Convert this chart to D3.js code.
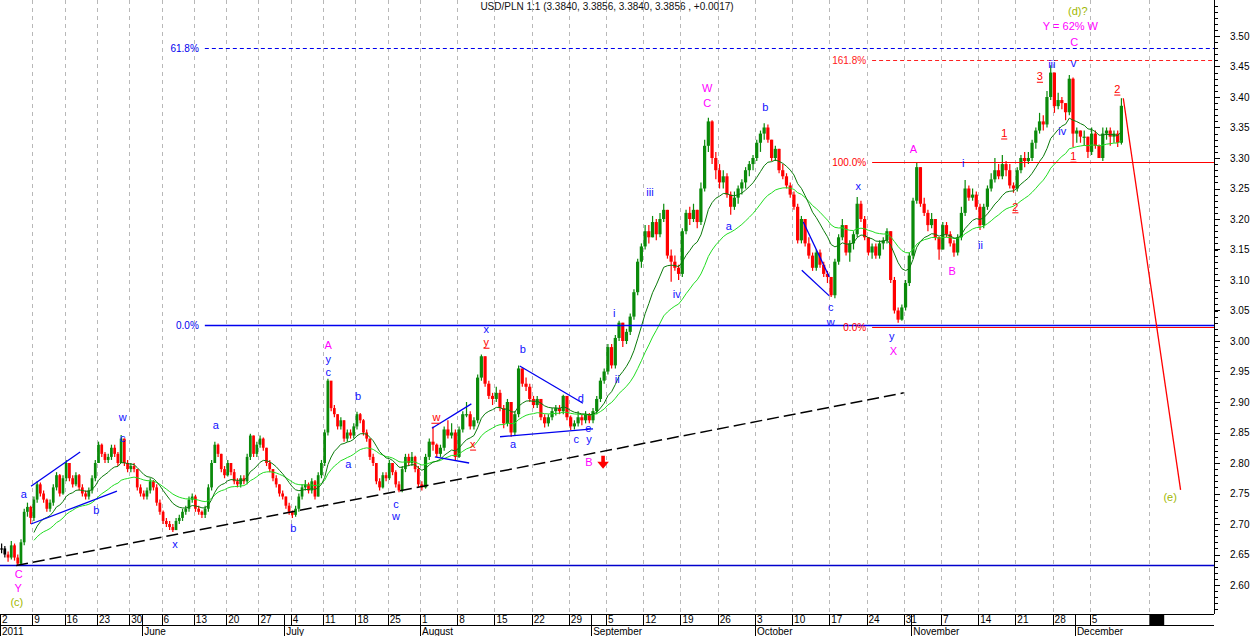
<!DOCTYPE html>
<html><head><meta charset="utf-8">
<script src="https://cdn.jsdelivr.net/npm/d3@7"></script>
<style>
body{margin:0;background:#fff}
svg{display:block}
text{font-family:"Liberation Sans",Arial,sans-serif}
</style>
</head><body>
<svg id="c" width="1250" height="636"></svg>
<script>
// ---------------- DATA ----------------
const title = "USD/PLN 1:1 (3.3840, 3.3856, 3.3840, 3.3856 , +0.0017)";
const firstDay = "2011-05-02";
const lastDay = "2011-12-30";
const scaleBreak = ["2011-08-01", "2011-12-12"];
// half-day bars (two per trading day): closes, highs, lows; open = previous close
const closes = [
2.66,2.65, 2.645,2.665, 2.645,2.635, 2.67,2.72, 2.728,2.71,
2.74,2.765, 2.75,2.74, 2.725,2.735, 2.76,2.78, 2.75,2.775,
2.80,2.775, 2.765,2.78, 2.76,2.75, 2.745,2.755, 2.775,2.80,
2.83,2.815, 2.805,2.81, 2.825,2.815, 2.80,2.84, 2.80,2.79,
2.795,2.79, 2.76,2.75, 2.745,2.755, 2.77,2.76, 2.735,2.72,
2.705,2.70, 2.695,2.69, 2.705,2.71, 2.72,2.725, 2.74,2.745,
2.725,2.72, 2.715,2.725, 2.76,2.80, 2.83,2.815, 2.79,2.78,
2.80,2.785, 2.77,2.765, 2.775,2.77, 2.81,2.845, 2.815,2.83,
2.84,2.825, 2.80,2.79, 2.775,2.765, 2.75,2.745, 2.73,2.72,
2.715,2.725, 2.745,2.76, 2.765,2.755, 2.77,2.745, 2.78,2.80,
2.85,2.935, 2.89,2.88, 2.86,2.87, 2.84,2.85, 2.845,2.86,
2.88,2.87, 2.85,2.84, 2.81,2.80, 2.77,2.76, 2.78,2.775,
2.80,2.785, 2.765,2.755, 2.79,2.81, 2.80,2.81, 2.79,2.765,
2.76,2.81, 2.835,2.83, 2.815,2.825, 2.855,2.845, 2.85,2.81,
2.855,2.88, 2.88,2.86, 2.87,2.94, 2.975,2.93, 2.91,2.905,
2.915,2.89, 2.865,2.90, 2.85,2.88, 2.955,2.93, 2.925,2.905,
2.895,2.905, 2.875,2.865, 2.875,2.885, 2.89,2.885, 2.91,2.875,
2.86,2.865, 2.875,2.87, 2.88,2.87, 2.885,2.905, 2.935,2.95,
2.99,2.96, 3.005,3.03, 3.00,3.015, 3.04,3.08, 3.13,3.155,
3.18,3.17, 3.195,3.175, 3.20,3.215, 3.14,3.13, 3.12,3.11,
3.18,3.21, 3.20,3.215, 3.195,3.25, 3.32,3.36, 3.30,3.28,
3.26,3.27, 3.24,3.22, 3.235,3.25, 3.26,3.28, 3.29,3.30,
3.325,3.34, 3.35,3.33, 3.30,3.315, 3.28,3.27, 3.255,3.24,
3.22,3.165, 3.20,3.16, 3.14,3.12, 3.145,3.125, 3.11,3.105,
3.075,3.13, 3.17,3.19, 3.145,3.16, 3.175,3.225, 3.20,3.17,
3.145,3.155, 3.14,3.16, 3.165,3.18, 3.10,3.05, 3.035,3.055,
3.095,3.14, 3.23,3.285, 3.225,3.21, 3.19,3.20, 3.17,3.15,
3.19,3.175, 3.16,3.145, 3.17,3.21, 3.25,3.235, 3.24,3.22,
3.19,3.22, 3.25,3.265, 3.28,3.27, 3.29,3.28, 3.255,3.25,
3.28,3.30, 3.295,3.30, 3.325,3.345, 3.36,3.355, 3.40,3.44,
3.385,3.395, 3.39,3.375, 3.43,3.34, 3.345,3.335, 3.335,3.31,
3.34,3.32, 3.30,3.34, 3.345,3.335, 3.34,3.325, 3.3856
];
const highs = [
2.668,2.664, 2.655,2.672, 2.668,2.65, 2.675,2.725, 2.735,2.73,
2.745,2.77, 2.768,2.755, 2.742,2.74, 2.765,2.785, 2.782,2.78,
2.805,2.80, 2.78,2.785, 2.782,2.765, 2.755,2.76, 2.78,2.805,
2.835,2.832, 2.818,2.815, 2.83,2.83, 2.818,2.846, 2.84,2.805,
2.80,2.80, 2.79,2.765, 2.755,2.76, 2.775,2.772, 2.765,2.74,
2.722,2.71, 2.705,2.70, 2.71,2.715, 2.725,2.73, 2.745,2.75,
2.748,2.73, 2.722,2.73, 2.765,2.805, 2.835,2.832, 2.815,2.795,
2.805,2.80, 2.79,2.775, 2.78,2.78, 2.815,2.848, 2.845,2.835,
2.845,2.842, 2.825,2.805, 2.79,2.78, 2.765,2.755, 2.745,2.735,
2.722,2.73, 2.75,2.765, 2.772,2.768, 2.775,2.772, 2.785,2.805,
2.855,2.938, 2.93,2.895, 2.88,2.875, 2.87,2.855, 2.855,2.865,
2.884,2.882, 2.872,2.855, 2.84,2.815, 2.80,2.775, 2.785,2.785,
2.805,2.80, 2.788,2.77, 2.795,2.815, 2.815,2.818, 2.812,2.795,
2.77,2.815, 2.84,2.86, 2.832,2.83, 2.86,2.87, 2.865,2.855,
2.86,2.885, 2.90,2.885, 2.875,2.945, 2.978,2.975, 2.935,2.915,
2.925,2.92, 2.895,2.905, 2.90,2.885, 2.96,2.955, 2.94,2.93,
2.91,2.91, 2.905,2.88, 2.88,2.89, 2.895,2.895, 2.912,2.91,
2.878,2.87, 2.885,2.88, 2.885,2.882, 2.89,2.91, 2.94,2.955,
2.995,2.995, 3.01,3.033, 3.03,3.02, 3.045,3.085, 3.135,3.16,
3.19,3.19, 3.205,3.20, 3.21,3.225, 3.215,3.15, 3.14,3.125,
3.185,3.215, 3.22,3.225, 3.215,3.26, 3.33,3.366, 3.362,3.31,
3.29,3.28, 3.275,3.245, 3.245,3.255, 3.265,3.285, 3.295,3.305,
3.33,3.345, 3.357,3.355, 3.33,3.32, 3.315,3.29, 3.275,3.26,
3.245,3.225, 3.205,3.20, 3.17,3.145, 3.15,3.15, 3.13,3.115,
3.105,3.135, 3.175,3.20, 3.19,3.165, 3.18,3.236, 3.23,3.205,
3.17,3.16, 3.16,3.165, 3.17,3.185, 3.18,3.105, 3.055,3.06,
3.10,3.145, 3.235,3.292, 3.285,3.235, 3.215,3.21, 3.20,3.17,
3.195,3.195, 3.18,3.165, 3.175,3.22, 3.264,3.255, 3.25,3.245,
3.225,3.225, 3.255,3.275, 3.30,3.29, 3.305,3.295, 3.29,3.26,
3.285,3.305, 3.31,3.31, 3.33,3.35, 3.374,3.37, 3.41,3.452,
3.44,3.407, 3.40,3.39, 3.436,3.432, 3.35,3.345, 3.345,3.335,
3.35,3.345, 3.322,3.35, 3.35,3.35, 3.345,3.345, 3.398
];
const lows = [
2.652,2.645, 2.638,2.642, 2.64,2.632, 2.632,2.665, 2.712,2.70,
2.705,2.735, 2.745,2.735, 2.72,2.72, 2.73,2.755, 2.745,2.748,
2.77,2.77, 2.76,2.762, 2.755,2.745, 2.74,2.74, 2.75,2.77,
2.80,2.81, 2.80,2.80, 2.805,2.81, 2.795,2.80, 2.795,2.785,
2.785,2.785, 2.755,2.745, 2.74,2.74, 2.75,2.755, 2.73,2.715,
2.70,2.695, 2.69,2.687, 2.69,2.70, 2.705,2.715, 2.72,2.735,
2.72,2.715, 2.71,2.71, 2.72,2.755, 2.80,2.81, 2.785,2.775,
2.778,2.78, 2.765,2.76, 2.76,2.765, 2.765,2.805, 2.81,2.81,
2.825,2.82, 2.795,2.785, 2.77,2.76, 2.745,2.74, 2.725,2.715,
2.71,2.712, 2.72,2.74, 2.755,2.75, 2.75,2.74, 2.745,2.775,
2.795,2.845, 2.885,2.875, 2.855,2.855, 2.835,2.835, 2.84,2.84,
2.855,2.865, 2.845,2.835, 2.805,2.795, 2.765,2.755, 2.758,2.77,
2.772,2.78, 2.76,2.752, 2.752,2.785, 2.795,2.795, 2.785,2.76,
2.755,2.758, 2.805,2.82, 2.81,2.81, 2.82,2.84, 2.84,2.805,
2.808,2.85, 2.875,2.855, 2.855,2.865, 2.935,2.925, 2.905,2.895,
2.90,2.885, 2.857,2.86, 2.843,2.845, 2.875,2.925, 2.918,2.90,
2.89,2.89, 2.87,2.858, 2.86,2.87, 2.878,2.88, 2.88,2.87,
2.854,2.855, 2.86,2.862, 2.865,2.865, 2.865,2.88, 2.90,2.93,
2.945,2.955, 2.955,3.0, 2.99,2.995, 3.01,3.035, 3.075,3.12,
3.15,3.16, 3.17,3.165, 3.17,3.195, 3.135,3.097, 3.115,3.10,
3.105,3.175, 3.19,3.195, 3.185,3.19, 3.245,3.31, 3.29,3.265,
3.25,3.25, 3.235,3.207, 3.215,3.225, 3.24,3.25, 3.27,3.28,
3.295,3.31, 3.33,3.325, 3.295,3.295, 3.275,3.265, 3.25,3.235,
3.215,3.16, 3.16,3.155, 3.135,3.115, 3.115,3.12, 3.105,3.095,
3.072,3.07, 3.125,3.165, 3.14,3.13, 3.15,3.17, 3.195,3.165,
3.14,3.135, 3.135,3.135, 3.15,3.16, 3.095,3.045, 3.03,3.033,
3.05,3.09, 3.135,3.225, 3.22,3.205, 3.18,3.185, 3.165,3.133,
3.15,3.17, 3.155,3.138, 3.14,3.165, 3.205,3.23, 3.23,3.215,
3.182,3.185, 3.215,3.245, 3.26,3.265, 3.265,3.27, 3.25,3.243,
3.245,3.275, 3.285,3.29, 3.295,3.315, 3.34,3.345, 3.35,3.395,
3.374,3.38, 3.38,3.362, 3.37,3.318, 3.325,3.325, 3.32,3.30,
3.305,3.315, 3.30,3.295, 3.33,3.32, 3.325,3.318, 3.322
];
const maFast = 14, maSlow = 30;     // EMA periods (half-day bars)
const yMajor = d3.range(2.60, 3.5001, 0.05);
const yMinor = d3.range(2.56, 3.5501, 0.01);
const futureMark = ["2011-12-15", "2011-12-19"];
const monthNames = ["2011","June","July","August","September","October","November","December"];

// horizontal levels: [label, price, fromDay, colour, dashed]
const levels = [
  ["0.0%", 3.0235, 125.75, "#ff0000", false],
  ["161.8%", 3.460, 125.75, "#ff2020", true],
  ["100.0%", 3.293, 125.75, "#ff0000", false],
  ["61.8%", 3.481, 31.7, "#0000ee", true],
  ["0.0%", 3.027, 31.7, "#0000ee", false],
  ["", 2.632, 0, "#0000cc", false]
];
// trend lines: [[day,price],[day,price], colour, dashed]
const trendLines = [
  [[2.5,2.632],[130,2.915],"#000000",true],
  [[4.8,2.762],[12.4,2.818],"#0000ee",false],
  [[4.8,2.700],[18.1,2.754],"#0000ee",false],
  [[66.6,2.857],[71.9,2.897],"#0000ee",false],
  [[67.0,2.810],[71.6,2.800],"#0000ee",false],
  [[78.4,2.959],[86.9,2.898],"#0000ee",false],
  [[75.75,2.843],[88.25,2.856],"#0000ee",false],
  [[116.5,3.195],[120,3.105],"#0000ee",false],
  [[116.3,3.116],[120,3.074],"#0000ee",false],
  [[159.5,3.398],[167.2,2.756],"#ff0000",false]
];
// wave labels: [text, day, price, kind]  kind: b=blue m=magenta r=red(underlined) g=olive
const waveLabels = [
  ["C",2.9,2.618,"m"],["Y",2.8,2.595,"m"],["(c)",2.6,2.572,"g"],
  ["a",3.7,2.749,"b"],["b",14.9,2.723,"b"],["w",19.0,2.875,"b"],["c",19.0,2.841,"b"],["x",27.1,2.667,"b"],
  ["a",33.4,2.862,"b"],["b",45.4,2.693,"b"],["A",50.8,2.993,"m"],["y",50.8,2.970,"b"],["c",50.8,2.949,"b"],
  ["b",55.4,2.910,"b"],["a",53.9,2.798,"b"],["c",61.3,2.733,"b"],["w",61.3,2.713,"b"],
  ["x",73.9,3.020,"b"],["y",73.9,2.998,"r"],["b",78.8,2.987,"b"],["w",67.2,2.875,"r"],["x",72.1,2.831,"r"],
  ["a",77.5,2.831,"b"],["d",86.6,2.907,"b"],["e",87.6,2.857,"b"],["c",86.0,2.839,"b"],["y",87.7,2.839,"b"],
  ["B",87.7,2.802,"m"],["i",91.1,3.046,"b"],["ii",91.5,2.938,"b"],
  ["W",103.6,3.415,"m"],["C",103.6,3.390,"m"],["b",111.4,3.384,"b"],["iii",95.9,3.244,"b"],
  ["a",106.5,3.189,"b"],["iv",99.5,3.077,"b"],
  ["A",131.3,3.315,"m"],["i",138.0,3.292,"b"],["x",123.9,3.254,"b"],["ii",140.3,3.157,"b"],
  ["B",136.5,3.115,"m"],["c",120.2,3.056,"b"],["w",120.2,3.031,"b"],["y",128.4,3.008,"b"],["X",128.6,2.984,"m"],
  ["(d)?",153.4,3.541,"g"],["Y = 62% W",152.4,3.516,"m"],["C",152.9,3.490,"m"],["iii",149.9,3.454,"b"],
  ["v",152.8,3.456,"b"],["3",148.3,3.434,"r"],["2",158.7,3.413,"r"],["1",143.5,3.341,"r"],
  ["iv",151.3,3.344,"b"],["1",152.8,3.303,"r"],["2",145.0,3.220,"r"],
  ["(e)",165.8,2.744,"g"]
];
const arrowAt = [89.6, 2.802];

// ---------------- CHART ----------------
const svg = d3.select("#c");
const axisX = 1214, plotBottom = 614, rowMid = 625, H = 636;
const kindColor = {b:"#1010ff", m:"#ff00ff", r:"#ff0000", g:"#a0b800"};

const parse = d3.timeParse("%Y-%m-%d");
const days = d3.timeDay.range(parse(firstDay), parse(lastDay))
  .filter(d => d.getDay() > 0 && d.getDay() < 6);
const idx = s => days.findIndex(d => +d === +parse(s));

const x = d3.scaleLinear()
  .domain([0, idx(scaleBreak[0]), idx(scaleBreak[1])])
  .range([0, 420, 1127]);
const y = d3.scaleLinear().domain([2.60, 3.50]).range([585, 36]);

svg.append("rect").attr("width",1250).attr("height",H).attr("fill","#fff");
svg.append("defs").append("clipPath").attr("id","plot")
  .append("rect").attr("x",0).attr("y",0).attr("width",axisX).attr("height",plotBottom);
const plot = svg.append("g").attr("clip-path","url(#plot)");

const lastDataDay = Math.ceil(closes.length/2) - 1;
const mondays = days.map((d,i)=>[d,i]).filter(([d,i]) => d.getDay()===1 && i <= lastDataDay);
const monthStarts = days.map((d,i)=>[d,i]).filter(([d,i]) => i<=lastDataDay && (i===0 || d.getMonth()!==days[i-1].getMonth()));
const fm0 = idx(futureMark[0]), fm1 = idx(futureMark[1]);

// grid
plot.append("g").selectAll("line")
  .data(mondays.filter(([d,i])=>i>0).map(([d,i])=>i).concat([fm0]))
  .join("line")
  .attr("x1",i=>Math.round(x(i))+0.5).attr("x2",i=>Math.round(x(i))+0.5)
  .attr("y1",0).attr("y2",plotBottom)
  .attr("stroke","#b8b8b8").attr("stroke-dasharray","4,4");

// candles (half-day bars)
const bars = closes.map((c,i)=>({i, o: i>0 ? closes[i-1] : c, c, h: highs[i], l: lows[i]}));
const bx = i => x(i/2);
const col = d => d.i < 2 ? "#000" : (d.c >= d.o ? "#0a8a0a" : "#ff0000");
const cg = plot.append("g");
cg.selectAll("line").data(bars).join("line")
  .attr("x1", d => (bx(d.i)+bx(d.i+1))/2).attr("x2", d => (bx(d.i)+bx(d.i+1))/2)
  .attr("y1", d => y(d.h)).attr("y2", d => y(d.l))
  .attr("stroke", col).attr("stroke-width", 1.2);
cg.selectAll("rect").data(bars).join("rect")
  .attr("x", d => bx(d.i) + 0.2)
  .attr("width", d => Math.max(1.6, bx(d.i+1) - bx(d.i) - 0.5))
  .attr("y", d => y(Math.max(d.o,d.c)))
  .attr("height", d => Math.max(1.2, Math.abs(y(d.o)-y(d.c))))
  .attr("fill", col);

// moving averages (EMA)
function ema(arr, n){
  const k = 2/(n+1); let e = arr[0];
  return arr.map(v => (e = v*k + e*(1-k)));
}
const mStart = 10;
[[maSlow,"#22dd22"],[maFast,"#0a7a0a"]].forEach(([n,c])=>{
  const m = ema(closes, n);
  plot.append("path")
    .datum(m.map((v,i)=>[i,v]).filter(([i])=>i>=mStart))
    .attr("fill","none").attr("stroke",c).attr("stroke-width",1)
    .attr("d", d3.line().x(d=>(bx(d[0])+bx(d[0]+1))/2).y(d=>y(d[1])));
});

// level lines
levels.forEach(([lab,p,from,c,dash])=>{
  const yy = Math.round(y(p)) + 0.5;
  plot.append("line").attr("x1",x(from)).attr("x2",axisX).attr("y1",yy).attr("y2",yy)
    .attr("stroke",c).attr("stroke-width", dash?1:(c.startsWith("#00")?1.5:1.2))
    .attr("stroke-dasharray", dash?"4,3":null);
  if(lab) svg.append("text").attr("x",x(from)-6).attr("y",yy).attr("dy","0.35em")
    .attr("text-anchor","end").attr("font-size",10).attr("fill",c).text(lab);
});

// trend lines
trendLines.forEach(([a,b,c,dash])=>{
  plot.append("line").attr("x1",x(a[0])).attr("y1",y(a[1])).attr("x2",x(b[0])).attr("y2",y(b[1]))
    .attr("stroke",c).attr("stroke-width",dash?1.5:1.3)
    .attr("stroke-dasharray",dash?"12,5":null);
});

// arrow
const ax = x(arrowAt[0]), ay = y(arrowAt[1]);
plot.append("path")
  .attr("d",`M${ax-1.8},${ay-6} h3.6 v6 h4 l-5.8,7 l-5.8,-7 h4 z`)
  .attr("fill","#ff0000");

// wave labels
const lg = svg.append("g");
waveLabels.forEach(([t,d,p,k])=>{
  const tx = lg.append("text").attr("x",x(d)).attr("y",y(p)).attr("dy","0.35em")
    .attr("text-anchor","middle").attr("font-size",11).attr("fill",kindColor[k]).text(t);
  if(k==="r"){
    const bb = tx.node().getBBox();
    lg.append("line").attr("x1",bb.x).attr("x2",bb.x+bb.width)
      .attr("y1",y(p)+6).attr("y2",y(p)+6).attr("stroke",kindColor[k]).attr("stroke-width",1);
  }
});

// title
svg.append("text").attr("x",607).attr("y",10).attr("text-anchor","middle")
  .attr("font-size",10).attr("fill","#111").text(title);

// y axis
const yAxis = svg.append("g");
yAxis.append("line").attr("x1",axisX+0.5).attr("x2",axisX+0.5).attr("y1",0).attr("y2",plotBottom).attr("stroke","#000");
yAxis.selectAll(".mn").data(yMinor.filter(v=>y(v)>0 && y(v)<plotBottom)).join("line")
  .attr("x1",axisX).attr("x2",axisX+4).attr("y1",v=>Math.round(y(v))+0.5).attr("y2",v=>Math.round(y(v))+0.5).attr("stroke","#000");
yAxis.selectAll(".mj").data(yMajor).join("line")
  .attr("x1",axisX).attr("x2",axisX+6).attr("y1",v=>Math.round(y(v))+0.5).attr("y2",v=>Math.round(y(v))+0.5).attr("stroke","#000");
yAxis.selectAll("text").data(yMajor).join("text")
  .attr("x",1230).attr("y",v=>y(v)).attr("dy","0.35em").attr("font-size",10).attr("fill","#000")
  .text(d3.format(".2f"));

// x axis (two rows)
const xa = svg.append("g");
[plotBottom, rowMid].forEach(yy=>xa.append("line").attr("x1",0).attr("x2",axisX).attr("y1",yy+0.5).attr("y2",yy+0.5).attr("stroke","#000"));
xa.selectAll(".wk").data(mondays).join("line")
  .attr("x1",([d,i])=>Math.round(x(i))+0.5).attr("x2",([d,i])=>Math.round(x(i))+0.5)
  .attr("y1",plotBottom).attr("y2",rowMid).attr("stroke","#000");
xa.selectAll(".wkt").data(mondays).join("text")
  .attr("x",([d,i])=>x(i)+2).attr("y",623).attr("font-size",10).attr("fill","#000")
  .text(([d])=>d3.timeFormat("%-d")(d));
xa.selectAll(".mo").data(monthStarts).join("line")
  .attr("x1",([d,i])=>Math.round(x(i))+0.5).attr("x2",([d,i])=>Math.round(x(i))+0.5)
  .attr("y1",plotBottom).attr("y2",H).attr("stroke","#000");
xa.selectAll(".mot").data(monthStarts).join("text")
  .attr("x",([d,i])=>x(i)+2).attr("y",635).attr("font-size",10).attr("fill","#000")
  .text((m,j)=>monthNames[j]);
xa.append("rect").attr("x",x(fm0)).attr("y",plotBottom).attr("width",x(fm1)-x(fm0)).attr("height",rowMid-plotBottom).attr("fill","#000");
</script>
</body></html>
